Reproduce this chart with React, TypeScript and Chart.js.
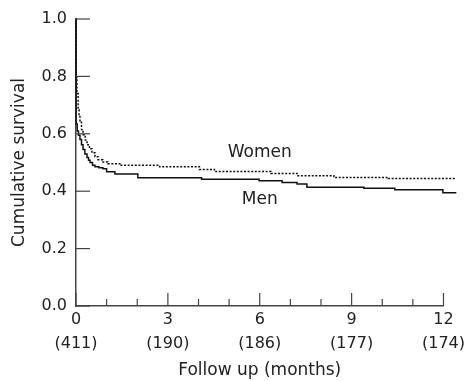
import React, { useEffect, useRef } from "react";
import { Chart, registerables } from "chart.js";

Chart.register(...registerables);

// Kaplan–Meier step points (months, cumulative survival)
const menTimes = [0, 0.005, 0.04, 0.08, 0.13, 0.18, 0.23, 0.29, 0.36, 0.41, 0.46, 0.54, 0.62, 0.75, 0.88, 1.0, 1.27, 2.02, 4.1, 5.98, 6.73, 7.22, 7.54, 9.4, 10.41, 11.98, 12.42];
const menSurvival = [1.0, 0.634, 0.61, 0.595, 0.58, 0.562, 0.545, 0.53, 0.517, 0.508, 0.5, 0.49, 0.485, 0.482, 0.478, 0.468, 0.46, 0.447, 0.442, 0.436, 0.43, 0.425, 0.414, 0.41, 0.405, 0.395, 0.395];

const womenTimes = [0, 0.005, 0.03, 0.07, 0.1, 0.13, 0.18, 0.23, 0.3, 0.36, 0.44, 0.52, 0.62, 0.72, 0.88, 1.04, 1.43, 2.73, 4.03, 4.52, 6.37, 7.22, 8.42, 10.2, 12.42];
const womenSurvival = [1.0, 0.796, 0.74, 0.684, 0.66, 0.64, 0.615, 0.597, 0.578, 0.562, 0.548, 0.534, 0.52, 0.51, 0.502, 0.496, 0.49, 0.485, 0.476, 0.469, 0.462, 0.454, 0.448, 0.444, 0.444];

const xTickMonths = [0, 3, 6, 9, 12];
const atRiskLabels = ["(411)", "(190)", "(186)", "(177)", "(174)"];
const yTickValues = [0, 0.2, 0.4, 0.6, 0.8, 1.0];

const seriesLabels = ["Men", "Women"];
const labelPositions = [
  { t: 6, s: 0.37 },
  { t: 6, s: 0.534 },
];

const FONT = "'DejaVu Sans', sans-serif";
const TEXT = "#222";
const AXIS = "#444";

const tickPlugin = {
  id: "inwardTicks",
  afterDatasetsDraw(chart: any) {
    const { ctx, scales } = chart;
    const xs = scales.x;
    const ys = scales.y;
    ctx.save();
    ctx.strokeStyle = AXIS;
    ctx.lineWidth = 1.2;
    const y0 = ys.getPixelForValue(0);
    const x0 = xs.getPixelForValue(0);
    for (let m = 0; m <= 12; m++) {
      const px = xs.getPixelForValue(m);
      const len = xTickMonths.includes(m) ? 13 : 7;
      ctx.beginPath();
      ctx.moveTo(px, y0);
      ctx.lineTo(px, y0 - len);
      ctx.stroke();
    }
    for (const v of yTickValues) {
      const py = ys.getPixelForValue(v);
      ctx.beginPath();
      ctx.moveTo(x0, py);
      ctx.lineTo(x0 + 14, py);
      ctx.stroke();
    }
    ctx.fillStyle = TEXT;
    ctx.font = `17px ${FONT}`;
    ctx.textAlign = "center";
    ctx.textBaseline = "middle";
    seriesLabels.forEach((lab, i) => {
      const p = labelPositions[i];
      ctx.fillText(lab, xs.getPixelForValue(p.t), ys.getPixelForValue(p.s));
    });
    ctx.restore();
  },
};

export default function App() {
  const ref = useRef<HTMLCanvasElement | null>(null);
  useEffect(() => {
    if (!ref.current) return;
    const chart = new Chart(ref.current, {
      type: "line",
      data: {
        datasets: [
          {
            label: "Men",
            data: menTimes.map((t, i) => ({ x: t, y: menSurvival[i] })),
            borderColor: "#111",
            borderWidth: 1.5,
            pointRadius: 0,
            stepped: true,
            fill: false,
            clip: false as any,
          },
          {
            label: "Women",
            data: womenTimes.map((t, i) => ({ x: t, y: womenSurvival[i] })),
            borderColor: "#111",
            borderWidth: 1.5,
            borderDash: [2, 1.6],
            pointRadius: 0,
            stepped: true,
            fill: false,
            clip: false as any,
          },
        ],
      },
      options: {
        animation: false,
        responsive: false,
        layout: { padding: { top: 19, right: 22, left: 0, bottom: 0 } },
        plugins: { legend: { display: false }, tooltip: { enabled: false } },
        scales: {
          x: {
            type: "linear",
            min: 0,
            max: 12,
            afterFit: (s: any) => {
              s.height = 75;
            },
            afterBuildTicks: (s: any) => {
              s.ticks = xTickMonths.map((v) => ({ value: v }));
            },
            grid: { display: false, drawTicks: false },
            border: { display: true, color: AXIS, width: 1.5 },
            ticks: {
              padding: 2,
              maxRotation: 0,
              autoSkip: false,
              color: TEXT,
              font: { family: FONT, size: 16, lineHeight: 1.5 },
              callback: (v: any) => {
                const i = xTickMonths.indexOf(Number(v));
                return [String(v), atRiskLabels[i] ?? ""];
              },
            },
            title: {
              display: true,
              text: "Follow up (months)",
              color: TEXT,
              font: { family: FONT, size: 17 },
              padding: { top: 0, bottom: 0 },
            },
          },
          y: {
            type: "linear",
            min: 0,
            max: 1,
            afterFit: (s: any) => {
              s.width = 76;
            },
            afterBuildTicks: (s: any) => {
              s.ticks = yTickValues.map((v) => ({ value: v }));
            },
            grid: { display: false, drawTicks: false },
            border: { display: true, color: AXIS, width: 1.5 },
            ticks: {
              padding: 9,
              autoSkip: false,
              color: TEXT,
              font: { family: FONT, size: 16 },
              callback: (v: any) => Number(v).toFixed(1),
            },
            title: {
              display: true,
              text: "Cumulative survival",
              color: TEXT,
              font: { family: FONT, size: 17 },
              padding: { top: 9, bottom: 0 },
            },
          },
        },
      },
      plugins: [tickPlugin],
    });
    return () => chart.destroy();
  }, []);
  return (
    <div style={{ position: "fixed", left: 0, top: 0, width: 467, height: 381, background: "#fff" }}>
      <canvas ref={ref} width={467} height={381} style={{ display: "block" }} />
    </div>
  );
}
